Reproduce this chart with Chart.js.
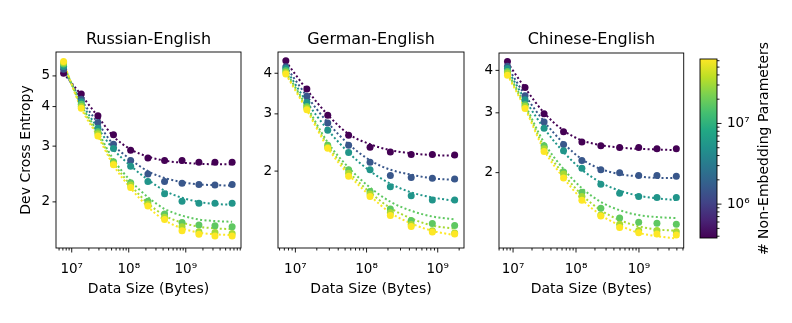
<!DOCTYPE html>
<html>
<head>
<meta charset="utf-8">
<script src="https://cdn.jsdelivr.net/npm/chart.js@4.4.1/dist/chart.umd.min.js"></script>
<style>
  body { margin: 0; background: #fff; width: 792px; height: 323px; position: relative; overflow: hidden; }
  canvas { position: absolute; top: 0; }
</style>
</head>
<body>
<canvas id="ru" width="250" height="323" style="left:0px"></canvas>
<canvas id="de" width="225" height="323" style="left:250px"></canvas>
<canvas id="zh" width="217" height="323" style="left:475px"></canvas>
<canvas id="cbar" width="100" height="323" style="left:692px"></canvas>
<script>
// model sizes (non-embedding params), smallest -> largest
const modelParams = [3.8e5, 1.5e6, 5.4e6, 1.75e7, 3.2e7, 6.3e7];

// Russian-English
const ruSizes = [7.2e6, 1.47e7, 2.88e7, 5.4e7, 1.08e8, 2.17e8, 4.25e8, 8.6e8, 1.70e9, 3.25e9, 6.5e9];
const ruPoints = [
  [5.10, 4.38, 3.74, 3.26, 2.91, 2.75, 2.70, 2.70, 2.67, 2.67, 2.67],
  [5.25, 4.22, 3.56, 3.04, 2.70, 2.45, 2.32, 2.29, 2.27, 2.26, 2.27],
  [5.35, 4.14, 3.42, 2.95, 2.59, 2.32, 2.12, 2.01, 1.98, 1.98, 1.98],
  [5.45, 4.07, 3.33, 2.68, 2.30, 2.01, 1.83, 1.72, 1.69, 1.68, 1.67],
  [5.50, 4.00, 3.28, 2.64, 2.26, 1.97, 1.79, 1.67, 1.61, 1.60, 1.59],
  [5.55, 3.95, 3.23, 2.62, 2.22, 1.94, 1.76, 1.62, 1.58, 1.56, 1.56]
];
const ruFit = [
  [5.10, 4.35, 3.72, 3.22, 2.93, 2.78, 2.70, 2.66, 2.64, 2.63, 2.63],
  [5.22, 4.20, 3.55, 3.03, 2.72, 2.50, 2.38, 2.31, 2.27, 2.26, 2.25],
  [5.30, 4.12, 3.42, 2.93, 2.60, 2.35, 2.17, 2.06, 2.00, 1.97, 1.96],
  [5.40, 4.05, 3.32, 2.72, 2.33, 2.07, 1.90, 1.81, 1.76, 1.74, 1.73],
  [5.45, 4.00, 3.27, 2.66, 2.26, 1.98, 1.81, 1.72, 1.67, 1.65, 1.64],
  [5.50, 3.95, 3.22, 2.61, 2.21, 1.93, 1.75, 1.65, 1.60, 1.58, 1.57]
];

// German-English
const deSizes = [7.35e6, 1.45e7, 2.85e7, 5.6e7, 1.12e8, 2.16e8, 4.24e8, 8.4e8, 1.73e9];
const dePoints = [
  [4.37, 3.58, 2.97, 2.58, 2.37, 2.29, 2.25, 2.25, 2.24],
  [4.19, 3.40, 2.81, 2.40, 2.13, 1.94, 1.91, 1.90, 1.89],
  [4.14, 3.25, 2.67, 2.28, 2.02, 1.79, 1.68, 1.63, 1.63],
  [4.07, 3.16, 2.40, 2.02, 1.73, 1.53, 1.41, 1.38, 1.36],
  [4.02, 3.13, 2.37, 1.97, 1.70, 1.49, 1.37, 1.31, 1.29],
  [3.98, 3.09, 2.35, 1.93, 1.67, 1.46, 1.35, 1.30, 1.28]
];
const deFit = [
  [4.35, 3.56, 2.98, 2.60, 2.42, 2.32, 2.27, 2.24, 2.23],
  [4.20, 3.40, 2.82, 2.42, 2.16, 2.02, 1.95, 1.90, 1.88],
  [4.12, 3.26, 2.68, 2.28, 2.00, 1.83, 1.72, 1.66, 1.62],
  [4.05, 3.16, 2.45, 2.05, 1.78, 1.61, 1.51, 1.45, 1.42],
  [4.00, 3.12, 2.40, 1.99, 1.72, 1.54, 1.43, 1.36, 1.33],
  [3.97, 3.08, 2.36, 1.95, 1.68, 1.49, 1.38, 1.31, 1.27]
];

// Chinese-English
const zhSizes = [8.15e6, 1.55e7, 3.11e7, 6.34e7, 1.24e8, 2.48e8, 4.93e8, 9.9e8, 1.93e9, 3.92e9];
const zhPoints = [
  [4.25, 3.56, 2.98, 2.64, 2.46, 2.40, 2.37, 2.37, 2.35, 2.35],
  [4.11, 3.37, 2.82, 2.42, 2.17, 2.04, 2.00, 1.96, 1.96, 1.95],
  [4.05, 3.28, 2.70, 2.32, 2.06, 1.85, 1.74, 1.70, 1.69, 1.69],
  [3.97, 3.17, 2.40, 2.01, 1.75, 1.57, 1.47, 1.43, 1.42, 1.41],
  [3.93, 3.13, 2.35, 1.98, 1.70, 1.50, 1.41, 1.35, 1.35, 1.34],
  [3.87, 3.09, 2.31, 1.93, 1.66, 1.49, 1.38, 1.33, 1.32, 1.31]
];
const zhFit = [
  [4.22, 3.55, 3.00, 2.66, 2.49, 2.41, 2.37, 2.35, 2.34, 2.33],
  [4.10, 3.38, 2.83, 2.44, 2.19, 2.05, 1.98, 1.95, 1.93, 1.93],
  [4.03, 3.28, 2.70, 2.30, 2.04, 1.87, 1.77, 1.71, 1.68, 1.66],
  [3.96, 3.17, 2.45, 2.05, 1.80, 1.64, 1.55, 1.50, 1.48, 1.47],
  [3.92, 3.13, 2.38, 1.98, 1.72, 1.55, 1.45, 1.39, 1.36, 1.35],
  [3.88, 3.09, 2.33, 1.93, 1.67, 1.50, 1.40, 1.33, 1.30, 1.28]
];

const yTickValues = [2, 3, 4, 5];

Chart.defaults.font.family = '"DejaVu Sans", sans-serif';
Chart.defaults.color = '#000';

// viridis
const viridis = ['#440154', '#482475', '#414487', '#355f8d', '#2a788e', '#21918c',
                 '#22a884', '#44bf70', '#7ad151', '#bddf26', '#fde725'];
function hex(c) { return [1, 3, 5].map(i => parseInt(c.substr(i, 2), 16)); }
function viridisAt(t) {
  t = Math.min(1, Math.max(0, t)) * 10;
  const i = Math.min(9, Math.floor(t)), f = t - i;
  const a = hex(viridis[i]), b = hex(viridis[i + 1]);
  return 'rgb(' + a.map((v, k) => Math.round(v + (b[k] - v) * f)).join(',') + ')';
}
const pMin = Math.min(...modelParams), pMax = Math.max(...modelParams);
function seriesColor(i) {
  return viridisAt(Math.log(modelParams[i] / pMin) / Math.log(pMax / pMin));
}

const sup = { '6': '⁶', '7': '⁷', '8': '⁸', '9': '⁹' };
function decadeLabel(v) {
  const l = Math.log10(v);
  return Math.abs(l - Math.round(l)) < 1e-6 ? '10' + sup[Math.round(l)] : '';
}
function logTicks(min, max) {
  const out = [];
  for (let d = Math.floor(Math.log10(min)); d <= Math.ceil(Math.log10(max)); d++) {
    for (let k = 1; k < 10; k++) {
      const v = k * Math.pow(10, d);
      if (v >= min && v <= max) out.push({ value: v, major: k === 1 });
    }
  }
  return out;
}

// frame, outward tick marks, panel title, side label
Chart.register({
  id: 'frame',
  afterDraw(chart, args, opts) {
    const { ctx, chartArea: a } = chart;
    ctx.save();
    ctx.strokeStyle = '#000';
    ctx.lineWidth = 0.9;
    ctx.strokeRect(a.left, a.top, a.right - a.left, a.bottom - a.top);
    Object.values(chart.scales).forEach(s => {
      if (!s.options.display) return;
      s.ticks.forEach(t => {
        const len = t.major ? 4.5 : 2.5;
        const p = s.getPixelForValue(t.value);
        ctx.beginPath();
        if (s.isHorizontal()) {
          ctx.moveTo(p, a.bottom); ctx.lineTo(p, a.bottom + len);
        } else if (s.position === 'right') {
          ctx.moveTo(a.right, p); ctx.lineTo(a.right + len, p);
        } else {
          ctx.moveTo(a.left, p); ctx.lineTo(a.left - 3.5, p);
        }
        ctx.stroke();
      });
    });
    ctx.fillStyle = '#000';
    if (opts.title) {
      ctx.font = '16px "DejaVu Sans"';
      ctx.textAlign = 'center';
      ctx.textBaseline = 'alphabetic';
      ctx.fillText(opts.title, (a.left + a.right) / 2, 43.5);
    }
    if (opts.sideLabel) {
      ctx.font = '14px "DejaVu Sans"';
      ctx.translate(opts.sideX, (a.top + a.bottom) / 2);
      ctx.rotate(-Math.PI / 2);
      ctx.textAlign = 'center';
      ctx.textBaseline = 'middle';
      ctx.fillText(opts.sideLabel, 0, 0);
    }
    ctx.restore();
  }
});

function drawPanel(id, title, sizes, pts, fit, xr, yr, area, yTitle) {
  const datasets = [];
  pts.forEach((ys, i) => {
    const col = seriesColor(i);
    datasets.push({
      data: sizes.map((x, j) => ({ x, y: fit[i][j] })),
      borderColor: col, borderWidth: 2, borderDash: [2, 2.4], borderCapStyle: 'butt',
      pointRadius: 0, cubicInterpolationMode: 'monotone', fill: false, order: 20 - i
    });
    datasets.push({
      data: sizes.map((x, j) => ({ x, y: ys[j] })),
      showLine: false, pointRadius: 3.5, pointBorderWidth: 0,
      pointBackgroundColor: col, pointBorderColor: col, order: 10 - i
    });
  });
  const canvas = document.getElementById(id);
  new Chart(canvas, {
    type: 'line',
    data: { datasets },
    options: {
      responsive: false,
      animation: false,
      layout: { padding: { top: area.top, bottom: 0, left: 0, right: canvas.width - area.right } },
      plugins: { legend: { display: false }, tooltip: { enabled: false }, frame: { title } },
      scales: {
        x: {
          type: 'logarithmic', min: xr[0], max: xr[1],
          afterBuildTicks: s => { s.ticks = logTicks(xr[0], xr[1]); },
          afterFit: s => { s.height = 323 - area.bottom; },
          border: { display: false },
          grid: { drawOnChartArea: false, drawTicks: true, tickLength: 4, tickColor: 'rgba(0,0,0,0)' },
          ticks: { autoSkip: false, maxRotation: 0, padding: 9, font: { size: 13.5 }, callback: v => decadeLabel(v) },
          title: { display: true, text: 'Data Size (Bytes)', font: { size: 14 }, padding: { bottom: 25, top: 0 } }
        },
        y: {
          type: 'logarithmic', min: yr[0], max: yr[1],
          afterBuildTicks: s => { s.ticks = yTickValues.filter(v => v >= yr[0] && v <= yr[1]).map(v => ({ value: v })); },
          afterFit: s => { s.width = area.left; },
          border: { display: false },
          grid: { drawOnChartArea: false, drawTicks: true, tickLength: 4, tickColor: 'rgba(0,0,0,0)' },
          ticks: { autoSkip: false, padding: 2, font: { size: 13.5 }, callback: v => String(v) },
          title: { display: !!yTitle, text: yTitle || '', font: { size: 14 }, padding: { top: 18, bottom: 0 } }
        }
      }
    }
  });
}

drawPanel('ru', 'Russian-English', ruSizes, ruPoints, ruFit, [5.3e6, 9.3e9], [1.43, 5.95],
  { left: 56, right: 241, top: 52, bottom: 248 }, 'Dev Cross Entropy');
drawPanel('de', 'German-English', deSizes, dePoints, deFit, [5.7e6, 2.34e9], [1.16, 4.65],
  { left: 28, right: 214, top: 52, bottom: 248 }, null);
drawPanel('zh', 'Chinese-English', zhSizes, zhPoints, zhFit, [5.98e6, 5.14e9], [1.2, 4.5],
  { left: 24, right: 209, top: 53, bottom: 248 }, null);

// colorbar
new Chart(document.getElementById('cbar'), {
  type: 'bar',
  data: {
    labels: ['params'],
    datasets: [{
      data: [[pMin, pMax]],
      barPercentage: 1, categoryPercentage: 1, borderWidth: 0,
      backgroundColor: c => {
        const a = c.chart.chartArea;
        if (!a) return '#21918c';
        const g = c.chart.ctx.createLinearGradient(0, a.bottom, 0, a.top);
        viridis.forEach((col, i) => g.addColorStop(i / 10, col));
        return g;
      }
    }]
  },
  options: {
    responsive: false,
    animation: false,
    layout: { padding: { top: 59, bottom: 85, left: 8, right: 0 } },
    plugins: {
      legend: { display: false }, tooltip: { enabled: false },
      frame: { sideLabel: '# Non-Embedding Parameters', sideX: 72 }
    },
    scales: {
      x: { display: false },
      y: {
        type: 'logarithmic', position: 'right', min: pMin, max: pMax,
        afterBuildTicks: s => { s.ticks = logTicks(pMin, pMax); },
        afterFit: s => { s.width = 75; },
        border: { display: false },
        grid: { drawOnChartArea: false, drawTicks: true, tickLength: 4, tickColor: 'rgba(0,0,0,0)' },
        ticks: { autoSkip: false, padding: 6, font: { size: 13.5 }, callback: v => decadeLabel(v) }
      }
    }
  }
});
</script>
</body>
</html>
